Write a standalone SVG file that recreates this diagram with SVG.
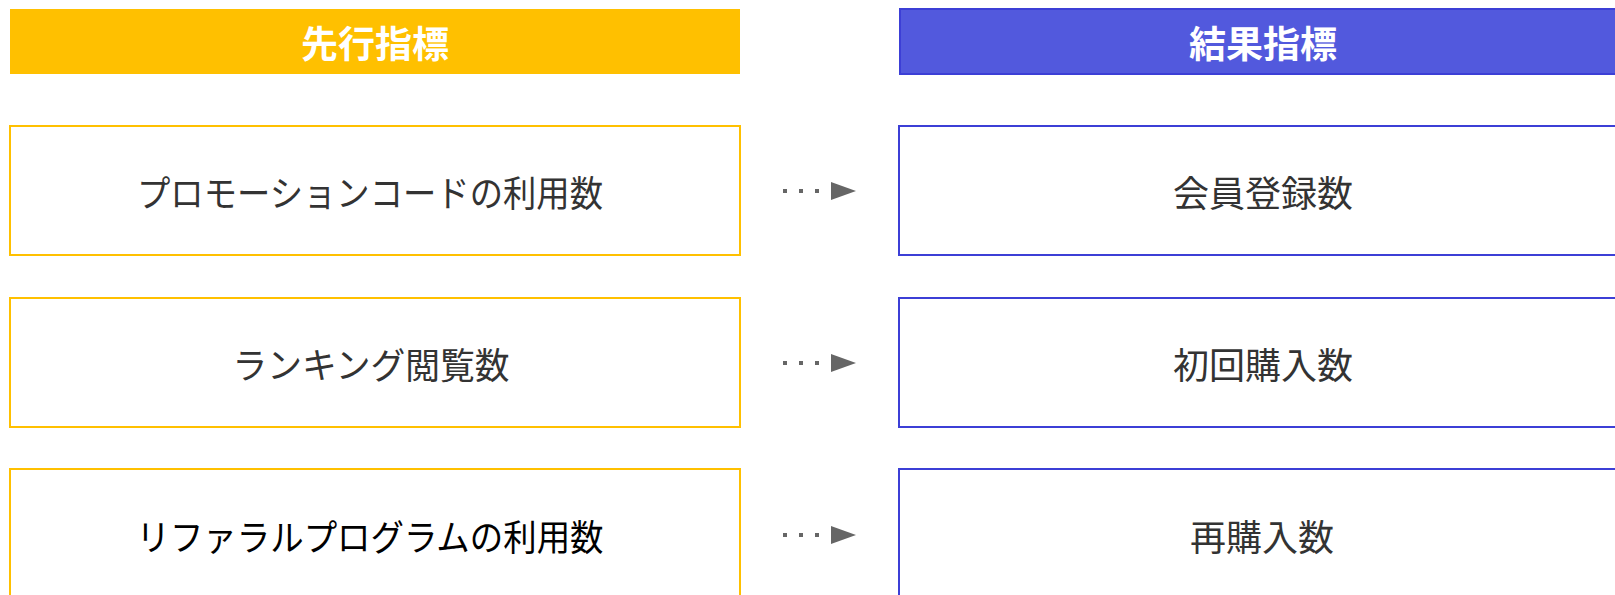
<svg xmlns="http://www.w3.org/2000/svg" width="1615" height="595" viewBox="0 0 1615 595">
<style>
.hdr{font-family:"Noto Sans CJK JP","Noto Sans CJK SC",sans-serif;font-weight:bold;font-size:37px;fill:#ffffff;text-anchor:middle;dominant-baseline:central}
.lbl{font-family:"Noto Sans CJK JP","Noto Sans CJK SC",sans-serif;font-size:36px;fill:#333333;text-anchor:middle;dominant-baseline:central}
.lbox{fill:#ffffff;stroke:#FFC000;stroke-width:2}
.rbox{fill:#ffffff;stroke:#3C3FD6;stroke-width:2}
.dot{fill:#666666}
.tri{fill:#666666}
</style>
<rect width="1615" height="595" fill="#ffffff"/>
<g id="header-left">
<rect x="10" y="9" width="730" height="65" fill="#FFC000"/>
<text class="hdr" x="375" y="42">先行指標</text>
</g>
<g id="header-right">
<rect x="900" y="9" width="730" height="65" fill="#5259DD" stroke="#3C3FD6" stroke-width="2"/>
<text class="hdr" x="1263" y="42">結果指標</text>
</g>
<g id="lead-1">
<rect class="lbox" x="10" y="126" width="730" height="129"/>
<text class="lbl" x="370" y="191" textLength="466" lengthAdjust="spacingAndGlyphs">プロモーションコードの利用数</text>
</g>
<g id="lead-2">
<rect class="lbox" x="10" y="298" width="730" height="129"/>
<text class="lbl" x="371" y="363" textLength="277" lengthAdjust="spacingAndGlyphs">ランキング閲覧数</text>
</g>
<g id="lead-3">
<rect class="lbox" x="10" y="469" width="730" height="140"/>
<text class="lbl" x="370" y="535" textLength="467" lengthAdjust="spacingAndGlyphs" style="fill:#000000">リファラルプログラムの利用数</text>
</g>
<g id="result-1">
<rect class="rbox" x="899" y="126" width="730" height="129"/>
<text class="lbl" x="1263" y="191">会員登録数</text>
</g>
<g id="result-2">
<rect class="rbox" x="899" y="298" width="730" height="129"/>
<text class="lbl" x="1263" y="363">初回購入数</text>
</g>
<g id="result-3">
<rect class="rbox" x="899" y="469" width="730" height="140"/>
<text class="lbl" x="1262" y="535">再購入数</text>
</g>
<g id="connectors">
<rect class="dot" x="783" y="189" width="4" height="4"/>
<rect class="dot" x="799" y="189" width="4" height="4"/>
<rect class="dot" x="815" y="189" width="4" height="4"/>
<polygon class="tri" points="831,182 856,191 831,200"/>
<rect class="dot" x="783" y="361" width="4" height="4"/>
<rect class="dot" x="799" y="361" width="4" height="4"/>
<rect class="dot" x="815" y="361" width="4" height="4"/>
<polygon class="tri" points="831,354 856,363 831,372"/>
<rect class="dot" x="783" y="533" width="4" height="4"/>
<rect class="dot" x="799" y="533" width="4" height="4"/>
<rect class="dot" x="815" y="533" width="4" height="4"/>
<polygon class="tri" points="831,526 856,535 831,544"/>
</g>
</svg>
